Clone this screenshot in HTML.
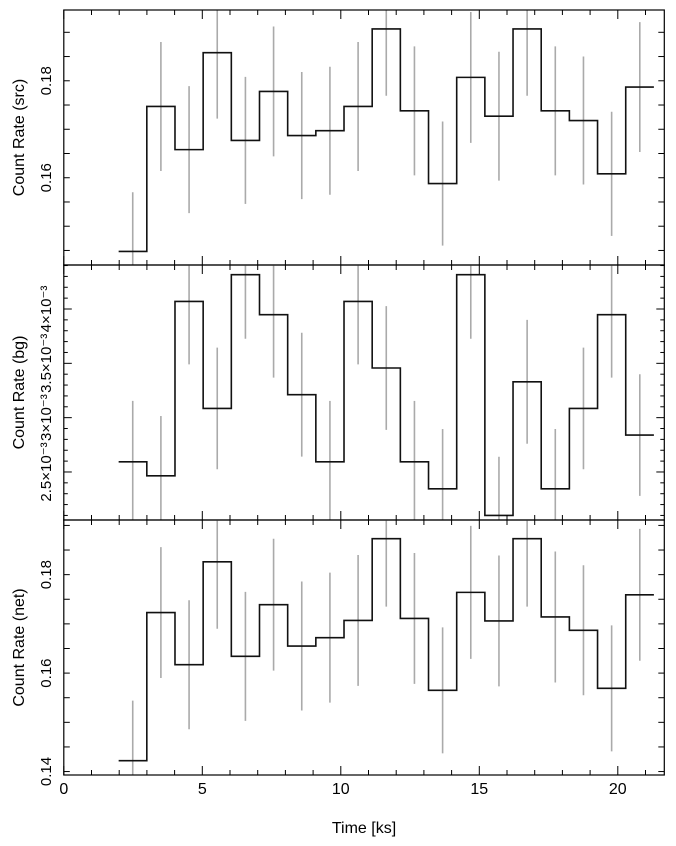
<!DOCTYPE html>
<html><head><meta charset="utf-8"><style>
body{margin:0;background:#fff}
svg{display:block;font-family:"Liberation Sans",Arial,sans-serif}
</style></head><body>
<svg id="chart" width="676" height="846" viewBox="0 0 676 846" xmlns="http://www.w3.org/2000/svg"></svg>
<script>
const binStart = 1.98;
const binWidth = 1.017;
const srcValues = [0.1448,0.1747,0.1658,0.1858,0.1677,0.1778,0.1687,0.1697,0.1747,0.1907,0.1738,0.1588,0.1807,0.1727,0.1907,0.1738,0.1718,0.1608,0.1787];
const srcErrors = [0.0122,0.0133,0.0131,0.0136,0.0131,0.0134,0.0131,0.0132,0.0133,0.0138,0.0133,0.0128,0.0135,0.0133,0.0138,0.0133,0.0132,0.0128,0.0134];
const bgValues = [0.002594,0.002465,0.00407,0.003085,0.004316,0.003948,0.003211,0.002594,0.00407,0.003457,0.002594,0.002345,0.004316,0.0021,0.00333,0.002345,0.003085,0.003948,0.00284];
const bgErrors = [0.00056,0.00055,0.00058,0.00056,0.00059,0.00058,0.00057,0.00056,0.00058,0.00057,0.00056,0.00055,0.00059,0.00054,0.00057,0.00055,0.00056,0.00058,0.00056];
const netValues = [0.1422,0.1723,0.1617,0.1826,0.1634,0.1739,0.1655,0.1672,0.1707,0.1873,0.1711,0.1565,0.1764,0.1706,0.1873,0.1714,0.1687,0.1569,0.1759];
const netErrors = [0.0122,0.0133,0.0131,0.0136,0.0131,0.0134,0.0131,0.0132,0.0133,0.0138,0.0133,0.0128,0.0135,0.0133,0.0138,0.0133,0.0132,0.0128,0.0134];
const xTickLabels = ["0","5","10","15","20"];
const srcTickLabels = ["0.16","0.18"];
const bgTickLabels = ["2.5×10⁻³","3×10⁻³","3.5×10⁻³","4×10⁻³"];
const netTickLabels = ["0.14","0.16","0.18"];

const NS="http://www.w3.org/2000/svg";
const svg=document.getElementById('chart');
function mk(tag,attrs,parent){const e=document.createElementNS(NS,tag);for(const k in attrs)e.setAttribute(k,attrs[k]);(parent||svg).appendChild(e);return e;}
const L=63.8,R=664.3,xMin=0,xMax=(R-L)/27.7;
function xs(v){return L+(v-xMin)/(xMax-xMin)*(R-L);}
const panels=[
 {name:'src',top:10,bot:265,min:0.1420,max:0.1946,vals:srcValues,errs:srcErrors,major:[0.16,0.18],minorStep:0.005,labels:srcTickLabels,title:'Count Rate (src)'},
 {name:'bg',top:265,bot:520,min:0.002058,max:0.004405,vals:bgValues,errs:bgErrors,major:[0.0025,0.003,0.0035,0.004],minorStep:0.0001,labels:bgTickLabels,title:'Count Rate (bg)'},
 {name:'net',top:520,bot:775,min:0.1393,max:0.1911,vals:netValues,errs:netErrors,major:[0.14,0.16,0.18],minorStep:0.005,labels:netTickLabels,title:'Count Rate (net)'}
];
panels.forEach((p,pi)=>{
 const g=mk('g',{});
 
 
 const ys=v=>p.bot-(v-p.min)/(p.max-p.min)*(p.bot-p.top);
 const clip=mk('clipPath',{id:'clip'+pi},g);
 mk('rect',{x:L,y:p.top,width:R-L,height:p.bot-p.top},clip);
 const data=mk('g',{'clip-path':'url(#clip'+pi+')'},g);
 p.vals.forEach((v,i)=>{
  const cx=xs(binStart+(i+0.5)*binWidth);
  const e=mk('line',{x1:cx,x2:cx,y1:ys(v-p.errs[i]),y2:ys(v+p.errs[i]),stroke:'#aaa','stroke-width':1.6},data);
  
  
 });
 let d='';
 p.vals.forEach((v,i)=>{
  const x0=xs(binStart+i*binWidth),x1=xs(binStart+(i+1)*binWidth),y=ys(v);
  d+=(i===0?'M':'L')+x0+','+y+' L'+x1+','+y+' ';
 });
 const path=mk('path',{d:d,fill:'none',stroke:'#111','stroke-width':1.6},data);
 
 
 const fr=mk('rect',{x:L,y:p.top,width:R-L,height:p.bot-p.top,fill:'none',stroke:'#000','stroke-width':1.2},g);
 
 
 for(let t=0;t<=Math.floor(xMax);t++){
  const x=xs(t),len=(t%5===0)?9:5;
  mk('line',{x1:x,x2:x,y1:p.bot,y2:p.bot-len,stroke:'#000','stroke-width':1},g);
  mk('line',{x1:x,x2:x,y1:p.top,y2:p.top+len,stroke:'#000','stroke-width':1},g);
 }
 const n0=Math.ceil(p.min/p.minorStep-1e-6),n1=Math.floor(p.max/p.minorStep+1e-6);
 for(let n=n0;n<=n1;n++){
  const v=n*p.minorStep,y=ys(v);
  const isMaj=p.major.some(m=>Math.abs(m-v)<p.minorStep*0.01);
  const len=p.name==='bg'?(isMaj?8:4):6;
  mk('line',{x1:L,x2:L+len,y1:y,y2:y,stroke:'#000','stroke-width':1},g);
  mk('line',{x1:R,x2:R-len,y1:y,y2:y,stroke:'#000','stroke-width':1},g);
 }
 p.major.forEach((m,i)=>{
  const y=ys(m);
  const t=mk('text',{x:0,y:0,transform:'translate(51,'+y+') rotate(-90)','text-anchor':'middle','font-size':15,fill:'#000'},g);
  t.textContent=p.labels[i];
  
  
 });
 const tt=mk('text',{x:0,y:0,transform:'translate(24,'+((p.top+p.bot)/2)+') rotate(-90)','text-anchor':'middle','font-size':16,fill:'#000'},g);
 tt.textContent=p.title;
 
 
});
xTickLabels.forEach(s=>{
 const t=mk('text',{x:xs(parseFloat(s)),y:794,'text-anchor':'middle','font-size':16,fill:'#000'});
 t.textContent=s;
 
 
});
const xt=mk('text',{x:364,y:833,'text-anchor':'middle','font-size':16,fill:'#000'});
xt.textContent='Time [ks]';


</script>
</body></html>
